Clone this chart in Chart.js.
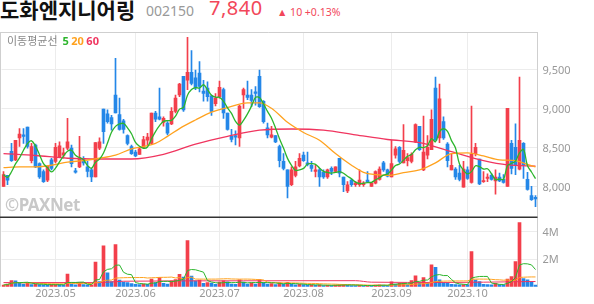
<!DOCTYPE html>
<html>
<head>
<meta charset="utf-8">
<script src="https://cdn.jsdelivr.net/npm/chart.js@4.4.0/dist/chart.umd.min.js"></script>
<style>
  body { margin: 0; width: 594px; height: 304px; background: #fff; position: relative; overflow: hidden;
         font-family: "Noto Sans CJK KR", "Noto Sans", sans-serif; }
  .t { position: absolute; white-space: nowrap; line-height: 1; }
  #name { left: 0; top: -1px; font-size: 21px; font-weight: bold; color: #111; }
  #code { left: 146px; top: 4px; font-size: 14px; color: #999; font-family: "Noto Sans", sans-serif; }
  #price { left: 209px; top: -2px; font-size: 20px; color: #f2475a; letter-spacing: 0.5px; font-family: "Noto Sans", sans-serif; }
  #chg { left: 277px; top: 7px; font-size: 10.5px; color: #f2475a; font-family: "Noto Sans", sans-serif; }
  #ma { left: 7px; top: 35px; font-size: 11px; color: #888; }
  #ma b { font-family: "Noto Sans", sans-serif; }
  #wm { left: 5px; top: 196px; font-size: 17px; font-weight: bold; color: #c8c8c8; letter-spacing: -0.5px; font-family: "Noto Sans", sans-serif; }
  #c { position: absolute; left: 0; top: 32px; }
</style>
</head>
<body>
<canvas id="c" width="594" height="272"></canvas>
<div class="t" id="name">도화엔지니어링</div>
<div class="t" id="code">002150</div>
<div class="t" id="price">7,840</div>
<div class="t" id="chg">▲ 10 +0.13%</div>
<div class="t" id="ma">이동평균선&nbsp;&nbsp;<b style="color:#2cb52c">5</b> <b style="color:#ffa21f">20</b> <b style="color:#f0355f">60</b></div>
<div class="t" id="wm">©PAXNet</div>
<script>
// trading days, 2023 (month, days)
const tradingDays = [
  ['04', [12,13,14,17,18,19,20,21,24,25,26,27,28]],
  ['05', [2,3,4,8,9,10,11,12,15,16,17,18,19,22,23,24,25,26,30,31]],
  ['06', [1,2,5,7,8,9,12,13,14,15,16,19,20,21,22,23,26,27,28,29,30]],
  ['07', [3,4,5,6,7,10,11,12,13,14,17,18,19,20,21,24,25,26,27,28,31]],
  ['08', [1,2,3,4,7,8,9,10,11,14,16,17,18,21,22,23,24,25,28,29,30,31]],
  ['09', [1,4,5,6,7,8,11,12,13,14,15,18,19,20,21,22,25,26,27]],
  ['10', [4,5,6,10,11,12,13,16,17,18,19,20,23,24,25,26,27,30]]
];
const monthLabels = ['2023.05','2023.06','2023.07','2023.08','2023.09','2023.10'];
const priceTicks = [8000, 8500, 9000, 9500];
const volTicks = [2000, 4000];   // thousands

const opens = [8000,8140,8450,8340,8620,8660,8760,8330,8530,8290,8190,8080,8340,
  8320,8380,8400,8490,8490,8200,8250,8360,8250,8210,8120,8490,8990,8930,8880,9170,8920,8840,8650,8510,
  8440,8410,8500,8590,8550,8940,8890,8820,8810,8800,8960,9170,9410,9360,9460,9390,9450,9220,9260,9160,9060,
  9150,9240,8940,8640,8650,8620,9170,9170,9170,9210,9410,9090,8750,8630,8650,8510,8320,8210,8020,8140,8260,
  8400,8300,8270,8190,8210,8180,8120,8230,8190,8360,8120,7940,8080,8020,8020,8020,8080,8000,8040,8090,8300,8210,
  8120,8400,8500,8300,8330,8320,8570,8770,8210,8400,8470,9260,8620,8830,8540,8210,8220,8170,7990,
  8210,8050,8420,8350,8060,8100,8140,8070,8120,8090,8000,8550,8500,8220,8550,8090,7880,7860];
const highs = [8190,8140,8550,8590,8740,8740,8760,8550,8540,8300,8210,8260,8360,
  8550,8570,8490,8870,8530,8230,8640,8380,8320,8230,8560,8620,8990,8980,8910,9640,9130,8860,8660,8530,
  8460,8500,8640,8680,8940,8960,9260,8890,8830,9010,9170,9320,9410,9910,9740,9490,9600,9360,9340,9170,9190,
  9350,9260,8940,8730,8710,9040,9260,9350,9240,9280,9490,9100,8810,8770,8650,8530,8420,8210,8250,8320,8420,
  8440,8440,8320,8270,8230,8210,8220,8250,8250,8360,8120,8060,8090,8060,8210,8060,8190,8050,8200,8250,8320,8220,
  8590,8510,8510,8790,8420,8430,8800,8770,8900,8650,8980,9400,9310,8890,8560,8420,8240,8270,8320,
  8250,9030,8550,8350,8190,8160,8160,8210,8170,8150,9000,8590,8800,9400,8560,8180,8000,7880];
const lows = [8000,8020,8320,8330,8510,8550,8490,8300,8240,8100,8050,8060,8210,
  8300,8370,8360,8470,8250,8170,8240,8270,8120,8060,8120,8470,8550,8810,8720,8940,8720,8680,8530,8410,
  8380,8410,8490,8530,8540,8830,8850,8770,8660,8790,8940,9150,8960,9240,9300,9240,9210,9090,9090,8910,9030,
  9130,8870,8720,8570,8530,8510,9000,9110,9020,9040,9010,8810,8620,8620,8560,8250,8210,7850,8010,8120,8250,
  8320,8260,8190,8120,8000,8100,8100,8150,8180,8120,7930,7920,8000,8000,8000,8000,8050,8000,8030,8080,8190,8120,
  8120,8360,8300,8300,8260,8300,8560,8460,8200,8350,8470,8590,8560,8600,8250,8210,8090,8070,7990,
  8090,8040,8390,8020,8050,8060,8080,7900,8060,8040,8000,8160,8150,8210,8100,7950,7820,7740];
const closes = [8150,8080,8330,8590,8670,8640,8510,8510,8250,8120,8060,8260,8230,
  8500,8520,8430,8570,8290,8180,8370,8300,8190,8120,8560,8570,8700,8830,8800,8940,8730,8730,8550,8420,
  8390,8480,8600,8630,8940,8860,8860,8870,8680,8960,9130,9310,8980,9460,9320,9260,9280,9190,9150,8960,9130,
  9270,8940,8730,8600,8630,9030,9240,9140,9100,9190,9020,8830,8660,8660,8570,8330,8230,8000,8210,8250,8360,
  8330,8280,8230,8210,8120,8120,8210,8190,8250,8170,8020,8020,8020,8040,8080,8040,8060,8040,8190,8220,8210,8130,
  8290,8480,8320,8460,8370,8410,8790,8470,8440,8500,8860,8590,9120,8620,8330,8270,8120,8090,8220,
  8100,8410,8500,8030,8070,8120,8090,8120,8070,8050,9000,8230,8270,8590,8270,7960,7830,7840];
// volume, thousands of shares
const volumes = [120,200,440,420,300,200,260,150,170,160,140,130,150,
  160,150,120,930,200,140,260,150,130,140,1800,380,2980,1020,370,3070,480,330,300,220,
  180,150,200,180,560,300,660,250,200,430,520,900,700,3370,780,420,480,250,300,260,180,
  330,420,360,200,180,500,330,200,280,200,520,300,200,220,150,300,200,320,170,140,180,
  160,120,130,100,130,90,100,80,120,140,160,120,90,80,100,70,90,80,120,130,110,100,
  360,200,250,250,160,440,800,300,660,250,1590,1420,500,300,260,180,150,140,160,
  150,2560,480,380,180,150,130,250,150,140,560,730,1830,4680,600,500,350,120];

// longer averages (index, value)
const ma20Idx = [0,4,8,12,16,20,24,28,32,35,38,41,44,48,52,56,61,64,67,71,75,79,83,87,90,93,96,100,104,108,112,116,120,124,128,131,133];
const ma20Val = [8240,8250,8250,8270,8310,8330,8360,8400,8480,8510,8550,8640,8740,8850,8950,9010,9070,9070,9000,8820,8690,8590,8420,8270,8180,8150,8140,8175,8210,8300,8420,8430,8390,8340,8330,8280,8250];
const ma60Idx = [0,8,16,24,32,40,48,56,64,72,80,88,96,104,112,120,126,133];
const ma60Val = [8420,8395,8360,8350,8350,8410,8540,8640,8720,8735,8720,8660,8600,8560,8444,8330,8275,8260];
const volMa60Idx = [0,24,30,60,88,92,110,120,133];
const volMa60Val = [300,300,400,430,440,330,310,330,380];

const dates = [];
tradingDays.forEach(([m, days]) => days.forEach(d => dates.push('2023-' + m + '-' + String(d).padStart(2, '0'))));
const monthIdx = ['05','06','07','08','09','10'].map(m => dates.findIndex(d => d.slice(5, 7) === m));

const UP = '#f33f4b', DOWN = '#2487e8';
const G = '#2cb52c', O = '#ffa21f', R = '#f0355f';

function movingAvg(src, n) {
  return src.map((_, i) => {
    const w = src.slice(Math.max(0, i - n + 1), i + 1);
    return w.reduce((a, b) => a + b, 0) / w.length;
  });
}
const pts = (idx, val) => idx.map((k, j) => ({ x: dates[k], y: val[j] }));

const candleColor = closes.map((c, i) => c >= opens[i] ? UP : DOWN);
const volColor = volumes.map((v, i) => i === 0 || v >= volumes[i - 1] ? UP : DOWN);

const line = (data, color, axis, extra) => Object.assign({
  type: 'line', data: data, yAxisID: axis, borderColor: color, borderWidth: 1.3,
  pointRadius: 0, fill: false, spanGaps: true
}, extra || {});
const smooth = { cubicInterpolationMode: 'monotone' };

// frame lines, panel separator and month labels under the volume panel
const frame = {
  id: 'frame',
  afterDatasetsDraw(chart) {
    const { ctx, chartArea: a, scales } = chart;
    ctx.save();
    ctx.strokeStyle = '#cfcfcf';
    ctx.lineWidth = 1;
    ctx.beginPath();
    ctx.moveTo(0, a.top + 0.5); ctx.lineTo(a.right, a.top + 0.5);
    ctx.moveTo(0.5, a.top); ctx.lineTo(0.5, a.bottom);
    ctx.stroke();
    ctx.strokeStyle = '#333';
    ctx.lineWidth = 1.5;
    ctx.beginPath();
    ctx.moveTo(0, scales.yv.top); ctx.lineTo(a.right, scales.yv.top);
    ctx.stroke();
    ctx.fillStyle = '#999';
    ctx.font = '11px "Noto Sans", sans-serif';
    ctx.textAlign = 'center';
    ctx.textBaseline = 'middle';
    monthIdx.forEach((k, j) => ctx.fillText(monthLabels[j], scales.x.getPixelForValue(k), a.bottom + 7));
    ctx.restore();
  }
};

const noPad = s => { s.paddingTop = 0; s.paddingBottom = 0; s.paddingLeft = 0; s.paddingRight = 0; };

Chart.defaults.font.family = '"Noto Sans", sans-serif';

new Chart(document.getElementById('c'), {
  type: 'bar',
  data: {
    labels: dates,
    datasets: [
      line(movingAvg(closes, 5), G, 'y', { tension: 0.35 }),
      line(pts(ma20Idx, ma20Val), O, 'y', smooth),
      line(pts(ma60Idx, ma60Val), R, 'y', smooth),
      line(movingAvg(volumes, 5), G, 'yv', { borderWidth: 1, tension: 0 }),
      line(movingAvg(volumes, 20), O, 'yv', { borderWidth: 1, tension: 0 }),
      line(pts(volMa60Idx, volMa60Val), R, 'yv', Object.assign({ borderWidth: 1 }, smooth)),
      { data: opens.map((o, i) => [o, closes[i]]), yAxisID: 'y', backgroundColor: candleColor,
        barThickness: 3, grouped: false, minBarLength: 1 },
      { data: lows.map((l, i) => [l, highs[i]]), yAxisID: 'y', backgroundColor: candleColor,
        barThickness: 1, grouped: false },
      { data: volumes, yAxisID: 'yv', backgroundColor: volColor, barThickness: 3, grouped: false }
    ]
  },
  options: {
    responsive: false,
    animation: false,
    layout: { autoPadding: false, padding: { left: 1.5, right: 0, top: 0, bottom: 0 } },
    plugins: { legend: { display: false }, tooltip: { enabled: false } },
    scales: {
      x: {
        grid: { offset: false, drawTicks: false,
                color: c => monthIdx.includes(c.index) ? '#ececec' : 'rgba(0,0,0,0)' },
        border: { display: false },
        ticks: { display: false, autoSkip: false },
        afterFit: s => { s.height = 17.3; noPad(s); }
      },
      y: {
        position: 'right', stack: 'main', stackWeight: 185.3,
        min: 7603, max: 9978,
        grid: { color: '#ececec', drawTicks: false },
        border: { color: '#cfcfcf' },
        ticks: { padding: 5, labelOffset: 2, color: '#999', font: { size: 11 }, callback: v => v.toLocaleString('en-US') },
        afterBuildTicks: s => { s.ticks = priceTicks.map(v => ({ value: v })); },
        afterFit: s => { s.width = 56.5; noPad(s); }
      },
      yv: {
        position: 'right', stack: 'main', stackWeight: 69.4,
        min: 0, max: 5066,
        grid: { color: '#ececec', drawTicks: false },
        border: { color: '#cfcfcf' },
        ticks: { padding: 5, labelOffset: 1, color: '#999', font: { size: 11 }, callback: v => (v / 1000) + 'M' },
        afterBuildTicks: s => { s.ticks = volTicks.map(v => ({ value: v })); },
        afterFit: s => { s.width = 56.5; noPad(s); }
      }
    }
  },
  plugins: [frame]
});
</script>
</body>
</html>
